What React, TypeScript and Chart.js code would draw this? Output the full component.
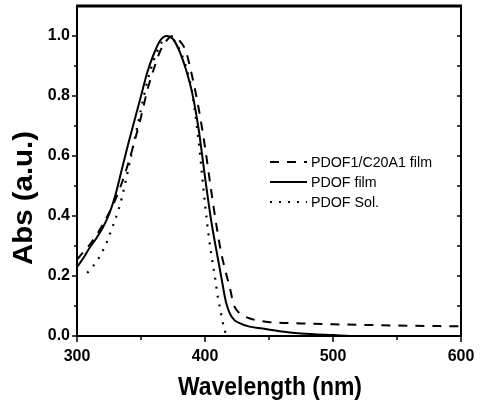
import React, { useEffect, useRef } from "react";
import { Chart, registerables } from "chart.js";

Chart.register(...registerables);

// ---- data ----
const seriesLabels = ["PDOF1/C20A1 film", "PDOF film", "PDOF Sol."];

const blendWl = [300, 305, 310, 315, 320, 325, 330, 335, 340, 345, 350, 355, 360, 365, 370, 375, 380, 385, 390, 395, 400, 405, 410, 413, 417, 420, 422, 426, 434, 449, 475, 500, 550, 600];
const blendAbs = [0.255, 0.28, 0.305, 0.335, 0.37, 0.41, 0.455, 0.51, 0.575, 0.65, 0.73, 0.82, 0.89, 0.95, 0.985, 1.0, 0.985, 0.95, 0.865, 0.76, 0.63, 0.48, 0.34, 0.27, 0.2, 0.15, 0.11, 0.08, 0.06, 0.047, 0.042, 0.039, 0.035, 0.032];

const filmWl = [300, 305, 310, 315, 320, 325, 330, 335, 340, 345, 350, 355, 360, 365, 370, 375, 380, 385, 390, 395, 400, 405, 410, 413, 416, 418, 420, 423, 427, 434, 445, 460, 475, 500, 520, 600];
const filmAbs = [0.23, 0.26, 0.295, 0.325, 0.36, 0.405, 0.47, 0.555, 0.64, 0.72, 0.8, 0.88, 0.94, 0.985, 1.0, 0.99, 0.95, 0.89, 0.81, 0.69, 0.53, 0.38, 0.26, 0.19, 0.12, 0.09, 0.07, 0.053, 0.043, 0.032, 0.025, 0.015, 0.008, 0.003, 0.0, 0.0];

const solWl = [308, 312, 317, 323, 327, 332, 335, 340, 345, 350, 355, 360, 365, 370, 375, 380, 385, 390, 395, 400, 403, 405, 408, 410, 412, 414, 416];
const solAbs = [0.21, 0.23, 0.26, 0.31, 0.355, 0.415, 0.46, 0.555, 0.655, 0.755, 0.85, 0.92, 0.97, 1.0, 0.99, 0.955, 0.9, 0.81, 0.65, 0.44, 0.33, 0.27, 0.19, 0.13, 0.087, 0.043, 0.01];

const xTickValues = [300, 400, 500, 600];
const xMinorTicks = [350, 450, 550];
const yTickValues = [0.0, 0.2, 0.4, 0.6, 0.8, 1.0];
const yMinorTicks = [0.1, 0.3, 0.5, 0.7, 0.9];
const xTitle = "Wavelength (nm)";
const yTitle = "Abs (a.u.)";

const FONT = "'Liberation Sans', Arial, Helvetica, sans-serif";

function toPoints(xs: number[], ys: number[]) {
  return xs.map((x, i) => ({ x, y: ys[i] }));
}

function drawFittedText(ctx: CanvasRenderingContext2D, text: string, x: number, y: number, font: string, targetWidth: number | null, rot: number, scaleOverride?: number) {
  ctx.save();
  ctx.font = font;
  const w = ctx.measureText(text).width;
  const s = scaleOverride ?? (targetWidth ? targetWidth / w : 1);
  ctx.translate(x, y);
  ctx.rotate(rot);
  ctx.scale(s, 1);
  ctx.fillText(text, 0, 0);
  ctx.restore();
  return s;
}

const framePlugin = {
  id: "frame",
  afterDraw(chart: any) {
    const { ctx, chartArea: a, scales } = chart;
    const xs = scales.x;
    const ys = scales.y;
    const line = (x1: number, y1: number, x2: number, y2: number) => {
      ctx.beginPath();
      ctx.moveTo(x1, y1);
      ctx.lineTo(x2, y2);
      ctx.stroke();
    };
    ctx.save();
    ctx.strokeStyle = "#000";
    ctx.fillStyle = "#000";
    ctx.lineWidth = 2;
    ctx.strokeRect(a.left, a.top, a.right - a.left, a.bottom - a.top);
    ctx.lineWidth = 3;
    line(a.left - 1, a.top, a.right + 1, a.top);

    // ticks
    ctx.lineWidth = 1.5;
    yTickValues.forEach((v) => {
      const y = ys.getPixelForValue(v);
      line(a.left, y, a.left - 5, y);
      line(a.right, y, a.right - 4, y);
    });
    yMinorTicks.forEach((v) => {
      const y = ys.getPixelForValue(v);
      line(a.left, y, a.left - 3, y);
      line(a.right, y, a.right - 4, y);
    });
    xTickValues.forEach((v) => {
      const x = xs.getPixelForValue(v);
      line(x, a.bottom, x, a.bottom + 6);
    });
    xMinorTicks.forEach((v) => {
      const x = xs.getPixelForValue(v);
      line(x, a.bottom, x, a.bottom + 4);
    });

    // axis titles
    ctx.textAlign = "center";
    ctx.textBaseline = "middle";
    drawFittedText(ctx, yTitle, 25, 198, `bold 27px ${FONT}`, 134, -Math.PI / 2);
    drawFittedText(ctx, xTitle, 270, 388, `bold 26px ${FONT}`, 184, 0);

    // legend
    const rows = [162, 182, 202];
    const sx1 = 270;
    const sx2 = 307;
    ctx.textAlign = "left";
    let s: number | undefined;
    chart.data.datasets.forEach((ds: any, i: number) => {
      const y = rows[i];
      ctx.save();
      ctx.lineWidth = ds.borderWidth;
      ctx.setLineDash(ds.borderDash || []);
      ctx.lineCap = ds.borderCapStyle || "butt";
      line(sx1, y, sx2, y);
      ctx.restore();
      const sc = drawFittedText(ctx, ds.label, 311, y + 1, `15px ${FONT}`, i === 0 ? 121 : null, 0, s);
      if (i === 0) s = sc;
    });
    ctx.restore();
  },
};

export default function App() {
  const ref = useRef<HTMLCanvasElement>(null);
  useEffect(() => {
    document.body.style.margin = "0";
    const canvas = ref.current!;
    const chart = new Chart(canvas, {
      type: "line",
      data: {
        datasets: [
          {
            label: seriesLabels[0],
            data: toPoints(blendWl, blendAbs),
            borderColor: "#000",
            borderWidth: 2,
            borderDash: [9, 8],
            pointRadius: 0,
            cubicInterpolationMode: "monotone",
          },
          {
            label: seriesLabels[1],
            data: toPoints(filmWl, filmAbs),
            borderColor: "#000",
            borderWidth: 2,
            pointRadius: 0,
            cubicInterpolationMode: "monotone",
          },
          {
            label: seriesLabels[2],
            data: toPoints(solWl, solAbs),
            borderColor: "#000",
            borderWidth: 2.2,
            borderDash: [2, 7],
            pointRadius: 0,
            cubicInterpolationMode: "monotone",
          },
        ],
      },
      options: {
        responsive: false,
        animation: false,
        devicePixelRatio: 1,
        layout: { padding: { top: 6, right: 22, left: 0, bottom: 0 }, autoPadding: false },
        plugins: { legend: { display: false }, tooltip: { enabled: false } },
        scales: {
          x: {
            type: "linear",
            min: 300,
            max: 600,
            afterBuildTicks: (s: any) => {
              s.ticks = xTickValues.map((v) => ({ value: v }));
            },
            afterFit: (s: any) => {
              s.height = 74;
              s.paddingLeft = 0;
              s.paddingRight = 0;
            },
            grid: { display: false, drawTicks: false },
            border: { display: false },
            ticks: {
              padding: 11,
              color: "#000",
              maxRotation: 0,
              font: { family: FONT, size: 16, weight: "bold" },
              callback: (v: any) => String(v),
            },
          },
          y: {
            type: "linear",
            min: 0,
            max: 1.1,
            afterBuildTicks: (s: any) => {
              s.ticks = yTickValues.map((v) => ({ value: v }));
            },
            afterFit: (s: any) => {
              s.width = 77;
              s.paddingTop = 0;
              s.paddingBottom = 0;
            },
            grid: { display: false, drawTicks: false },
            border: { display: false },
            ticks: {
              padding: 7,
              color: "#000",
              font: { family: FONT, size: 16, weight: "bold" },
              callback: (v: any) => Number(v).toFixed(1),
            },
          },
        },
      },
      plugins: [framePlugin],
    } as any);
    return () => chart.destroy();
  }, []);
  return (
    <div style={{ position: "fixed", left: 0, top: 0, width: 483, height: 410, background: "#fff" }}>
      <canvas ref={ref} width={483} height={410} style={{ display: "block", width: 483, height: 410 }} />
    </div>
  );
}
